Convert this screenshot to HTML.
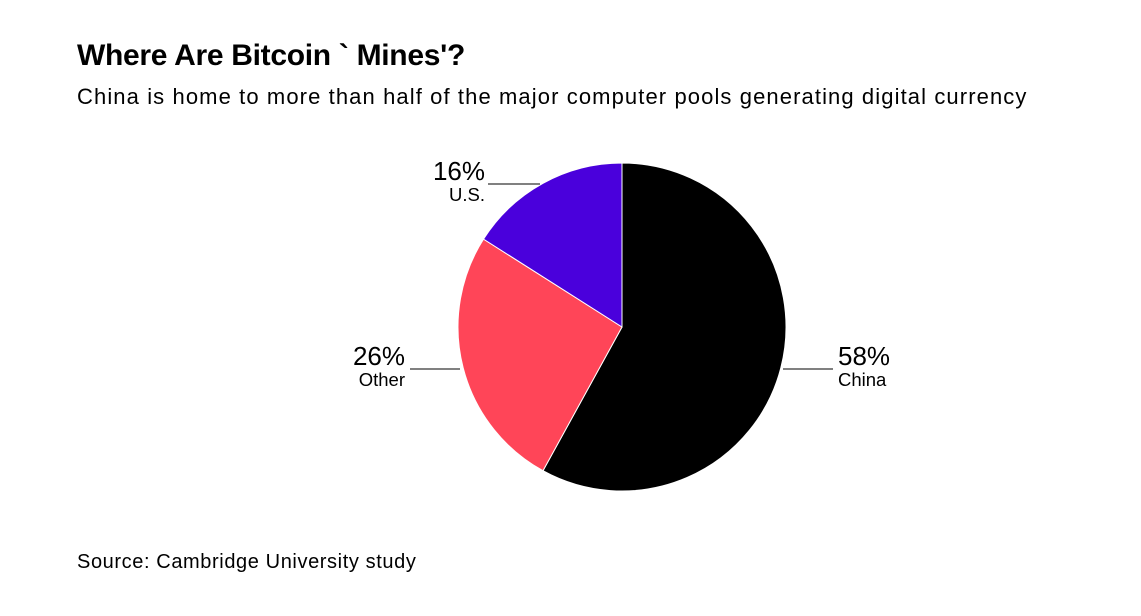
<!DOCTYPE html>
<html><head><meta charset="utf-8"><style>
body{margin:0;width:1141px;height:616px;background:#fff;font-family:"Liberation Sans",sans-serif;overflow:hidden;position:relative}
#title{position:absolute;left:77px;top:39px;font-size:30px;font-weight:bold;letter-spacing:-0.3px;margin:0}
#sub{position:absolute;left:77px;top:84px;font-size:22px;letter-spacing:1.1px}
#src{position:absolute;left:77px;top:551px;font-size:20px;letter-spacing:0.6px}
</style></head><body>
<h1 id="title">Where Are Bitcoin ` Mines'?</h1>
<div id="sub">China is home to more than half of the major computer pools generating digital currency</div>
<svg id="pie" width="1141" height="616" style="position:absolute;left:0;top:0"></svg>
<div id="src">Source: Cambridge University study</div>
<script>
const categories=["China","Other","U.S."];
const values=[58,26,16];
const colors=["#000000","#ff4558","#4a00dc"];
const cx=622,cy=327,r=164;
const NS="http://www.w3.org/2000/svg";
const svg=document.getElementById('pie');
const total=values.reduce((a,b)=>a+b,0);
function pt(frac,rad){const a=frac*2*Math.PI;return [cx+rad*Math.sin(a),cy-rad*Math.cos(a)];}
let acc=0;
const labelPos=[{x:838,y:369,anchor:"start",lx1:783,lx2:833},{x:405,y:369,anchor:"end",lx1:410,lx2:460},{x:485,y:184,anchor:"end",lx1:488,lx2:540}];
values.forEach((v,i)=>{
  const s=acc/total,e=(acc+v)/total;acc+=v;
  const [x1,y1]=pt(s,r),[x2,y2]=pt(e,r);
  const p=document.createElementNS(NS,'path');
  p.setAttribute('d',`M${cx},${cy}L${x1},${y1}A${r},${r} 0 ${e-s>0.5?1:0} 1 ${x2},${y2}Z`);
  p.setAttribute('fill',colors[i]);p.setAttribute('stroke','#fff');p.setAttribute('stroke-width','1');
  
  
  svg.appendChild(p);
  const L=labelPos[i];
  const ln=document.createElementNS(NS,'line');
  ln.setAttribute('x1',L.lx1);ln.setAttribute('x2',L.lx2);ln.setAttribute('y1',L.y);ln.setAttribute('y2',L.y);
  ln.setAttribute('stroke','#000');ln.setAttribute('stroke-width','1');
  
  
  svg.appendChild(ln);
  const t1=document.createElementNS(NS,'text');
  t1.setAttribute('x',L.x);t1.setAttribute('y',L.y-4);t1.setAttribute('text-anchor',L.anchor);
  t1.setAttribute('font-size','26');t1.textContent=v+'%';
  
  
  svg.appendChild(t1);
  const t2=document.createElementNS(NS,'text');
  t2.setAttribute('x',L.x);t2.setAttribute('y',L.y+17);t2.setAttribute('text-anchor',L.anchor);
  t2.setAttribute('font-size','18.5');t2.textContent=categories[i];
  
  
  svg.appendChild(t2);
});
</script>
</body></html>
